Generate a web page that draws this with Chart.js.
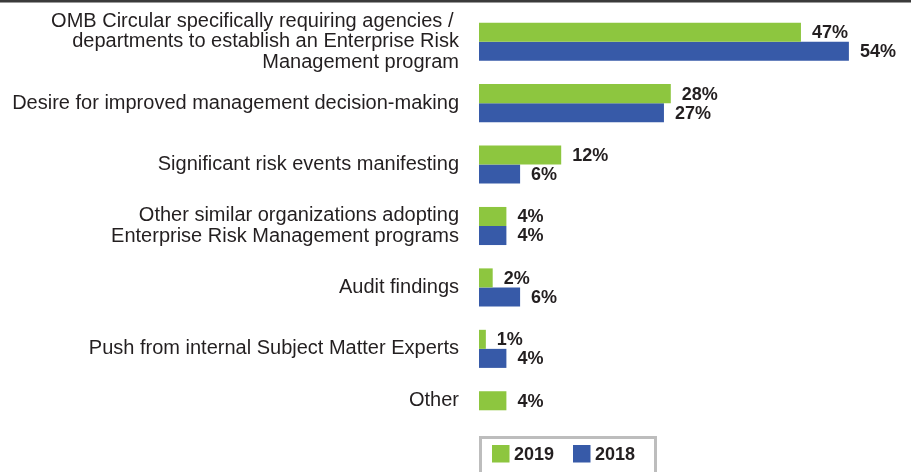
<!DOCTYPE html>
<html>
<head>
<meta charset="utf-8">
<script src="https://cdn.jsdelivr.net/npm/chart.js@4"></script>
<style>
  html, body { margin: 0; padding: 0; background: #ffffff; }
  #wrap { width: 911px; height: 472px; position: relative; }
</style>
</head>
<body>
<div id="wrap"><canvas id="c" width="911" height="472"></canvas></div>
<script>
const categories = [
  ["OMB Circular specifically requiring agencies / ", "departments to establish an Enterprise Risk", "Management program"],
  "Desire for improved management decision-making",
  "Significant risk events manifesting",
  ["Other similar organizations adopting", "Enterprise Risk Management programs"],
  "Audit findings",
  "Push from internal Subject Matter Experts",
  ["Other", ""]
];
const seriesLabels = ["2019", "2018"];
const values2019 = [47, 28, 12, 4, 2, 1, 4];
const values2018 = [54, 27, 6, 4, 6, 4, null];

const GREEN = "#8dc63f";
const BLUE = "#375aa8";
const TEXT = "#231f20";
const FONT = "'Liberation Sans', Arial, sans-serif";

const topRule = {
  id: "topRule",
  beforeDraw(chart) {
    const ctx = chart.ctx;
    ctx.save();
    ctx.fillStyle = "#3a3a3a";
    ctx.fillRect(0, 0, chart.width, 2);
    ctx.fillStyle = "#9a9a9a";
    ctx.fillRect(0, 2, chart.width, 1);
    ctx.restore();
  }
};

const valueLabels = {
  id: "valueLabels",
  afterDatasetsDraw(chart) {
    const ctx = chart.ctx;
    ctx.save();
    ctx.font = "bold 18px " + FONT;
    ctx.fillStyle = TEXT;
    ctx.textAlign = "left";
    ctx.textBaseline = "middle";
    chart.data.datasets.forEach((ds, di) => {
      const meta = chart.getDatasetMeta(di);
      meta.data.forEach((el, i) => {
        const v = ds.data[i];
        if (v === null || v === undefined) return;
        ctx.fillText(v + "%", el.x + 11, el.y + 1);
      });
    });
    ctx.restore();
  }
};

const boxLegend = {
  id: "boxLegend",
  afterDraw(chart) {
    const ctx = chart.ctx;
    const left = chart.chartArea.left;
    const top = 437.5;
    ctx.save();
    ctx.strokeStyle = "#bdbdbd";
    ctx.lineWidth = 3;
    ctx.strokeRect(left + 1.5, top, 175, 40);
    ctx.font = "bold 18px " + FONT;
    ctx.textBaseline = "middle";
    ctx.textAlign = "left";
    const items = chart.data.datasets.map(d => ({ label: d.label, color: d.backgroundColor }));
    const xs = [left + 13, left + 94];
    items.forEach((it, i) => {
      ctx.fillStyle = it.color;
      ctx.fillRect(xs[i], 445, 17.5, 17.5);
      ctx.fillStyle = TEXT;
      ctx.fillText(it.label, xs[i] + 22, 455);
    });
    ctx.restore();
  }
};

new Chart(document.getElementById("c"), {
  type: "bar",
  data: {
    labels: categories,
    datasets: [
      { label: seriesLabels[0], data: values2019, backgroundColor: GREEN, borderWidth: 0 },
      { label: seriesLabels[1], data: values2018, backgroundColor: BLUE, borderWidth: 0 }
    ]
  },
  options: {
    indexAxis: "y",
    responsive: false,
    devicePixelRatio: 1,
    animation: false,
    categoryPercentage: 0.62,
    barPercentage: 1.0,
    layout: { padding: { top: 11, bottom: 31, right: 21, left: 0 } },
    plugins: {
      legend: { display: false },
      tooltip: { enabled: false }
    },
    scales: {
      x: { display: false, min: 0, max: 60 },
      y: {
        grid: { display: false, drawTicks: false },
        border: { display: false },
        ticks: {
          color: TEXT,
          padding: 20,
          autoSkip: false,
          font: { family: FONT, size: 20, lineHeight: 1.02 }
        },
        afterFit(scale) {
          scale.width = 479;
          scale.paddingTop = 0;
          scale.paddingBottom = 0;
        }
      }
    }
  },
  plugins: [topRule, valueLabels, boxLegend]
});
</script>
</body>
</html>
